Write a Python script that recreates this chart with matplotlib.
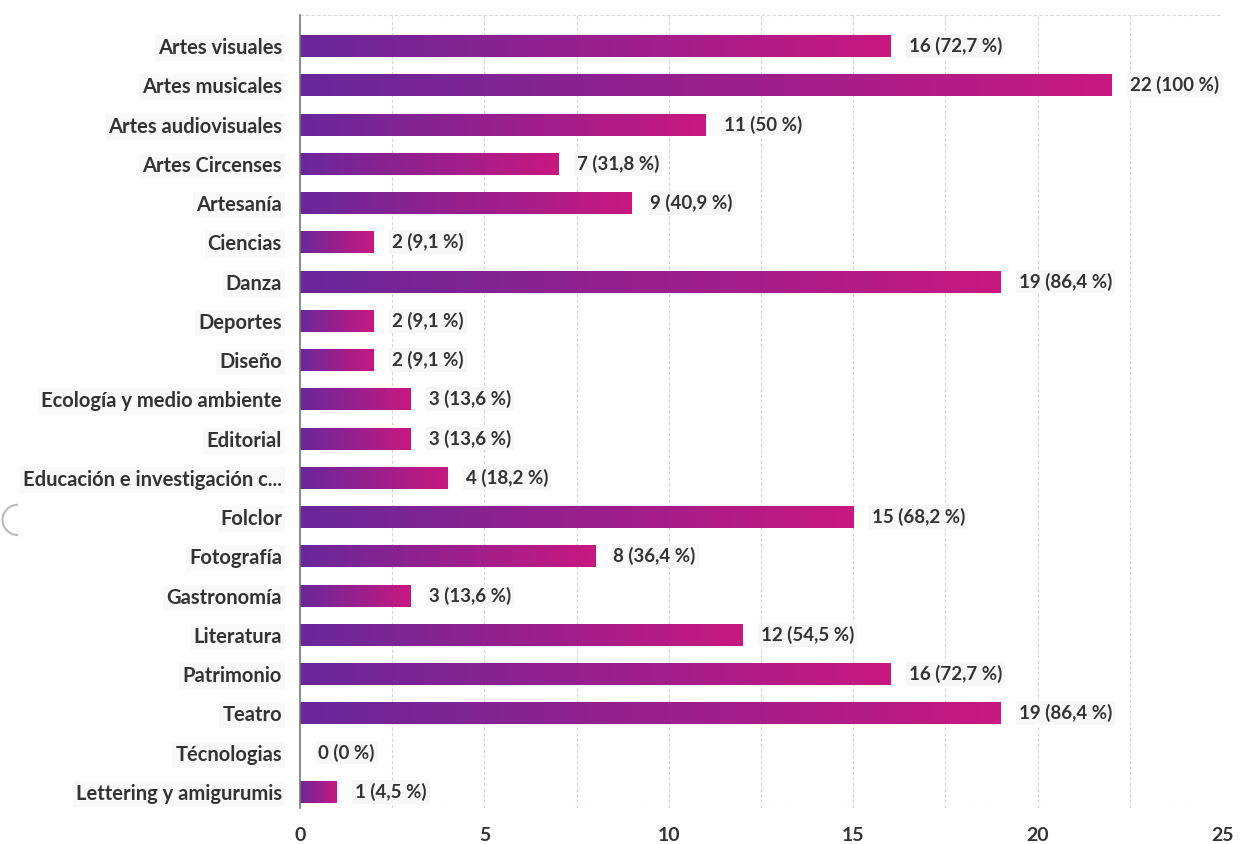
import numpy as np
import matplotlib
matplotlib.use('Agg')
import matplotlib.pyplot as plt
from matplotlib.colors import LinearSegmentedColormap
from matplotlib.patches import Arc

#%% Data

categories = ['Artes visuales', 'Artes musicales', 'Artes audiovisuales', 'Artes Circenses',
              'Artesanía', 'Ciencias', 'Danza', 'Deportes', 'Diseño',
              'Ecología y medio ambiente', 'Editorial', 'Educación e investigación c...',
              'Folclor', 'Fotografía', 'Gastronomía', 'Literatura', 'Patrimonio', 'Teatro',
              'Técnologias', 'Lettering y amigurumis']
counts = [16, 22, 11, 7, 9, 2, 19, 2, 2, 3, 3, 4, 15, 8, 3, 12, 16, 19, 0, 1]
percents = ['72,7', '100', '50', '31,8', '40,9', '9,1', '86,4', '9,1', '9,1', '13,6',
            '13,6', '18,2', '68,2', '36,4', '13,6', '54,5', '72,7', '86,4', '0', '4,5']
xticks = [0, 5, 10, 15, 20, 25]

#%% Style

plt.rcParams['font.family'] = ['Lato', 'DejaVu Sans']
text_col = '#333333'
grad_cmap = LinearSegmentedColormap.from_list('bars', ['#69289a', '#c81880'])
gradient = np.linspace(0, 1, 256).reshape(1, -1)

fig = plt.figure(figsize=(12.42, 8.44), dpi=100)
ax = fig.add_axes([0.2415, 0.0427, 0.7425, 0.9395])

bar_h = 0.56
y_pos = np.arange(len(categories))

# gradient-filled bars, one image per bar
for y, v in zip(y_pos, counts):
    if v > 0:
        ax.imshow(gradient, extent=[0, v, y + bar_h / 2, y - bar_h / 2],
                  aspect='auto', cmap=grad_cmap, interpolation='bicubic', zorder=2)
    ax.text(v + 0.5, y, '%d (%s %%)' % (v, percents[y]), va='center', ha='left',
            fontsize=13.5, fontweight='bold', color=text_col, zorder=3,
            bbox=dict(boxstyle='square,pad=0.15', fc='#f7f7f7', ec='none'))

ax.set_xlim(0, 25)
ax.set_ylim(len(categories) - 0.59, -0.79)

# dashed grid every 2.5
for gx in np.arange(2.5, 25.01, 2.5):
    ax.axvline(gx, color='#d6d6d6', lw=0.8, ls=(0, (3, 2)), zorder=1)
ax.axhline(-0.79, color='#d6d6d6', lw=0.8, ls=(0, (3, 2)), zorder=1)
ax.axhline(len(categories) - 0.59, color='#d6d6d6', lw=0.8, ls=(0, (3, 2)), zorder=1)

for s in ['top', 'right', 'bottom']:
    ax.spines[s].set_visible(False)
ax.spines['left'].set_color('#777777')
ax.spines['left'].set_linewidth(1.2)

ax.set_yticks(y_pos)
ax.set_yticklabels(categories)
ax.set_xticks(xticks)
ax.tick_params(axis='both', length=0, labelcolor=text_col)
ax.tick_params(axis='y', pad=13, labelsize=14.5)
ax.tick_params(axis='x', pad=14, labelsize=14)
for lbl in ax.get_yticklabels() + ax.get_xticklabels():
    lbl.set_fontweight('bold')
for lbl in ax.get_yticklabels():
    lbl.set_bbox(dict(boxstyle='square,pad=0.15', fc='#f9f9f9', ec='none'))

# small ring at the left edge
fig.add_artist(Arc((0.0145, 0.384), 0.025, 0.036, theta1=90, theta2=270,
                   transform=fig.transFigure, color='#bbbbbb', lw=1.5))

fig.savefig('out.png', dpi=100)
plt.close(fig)
